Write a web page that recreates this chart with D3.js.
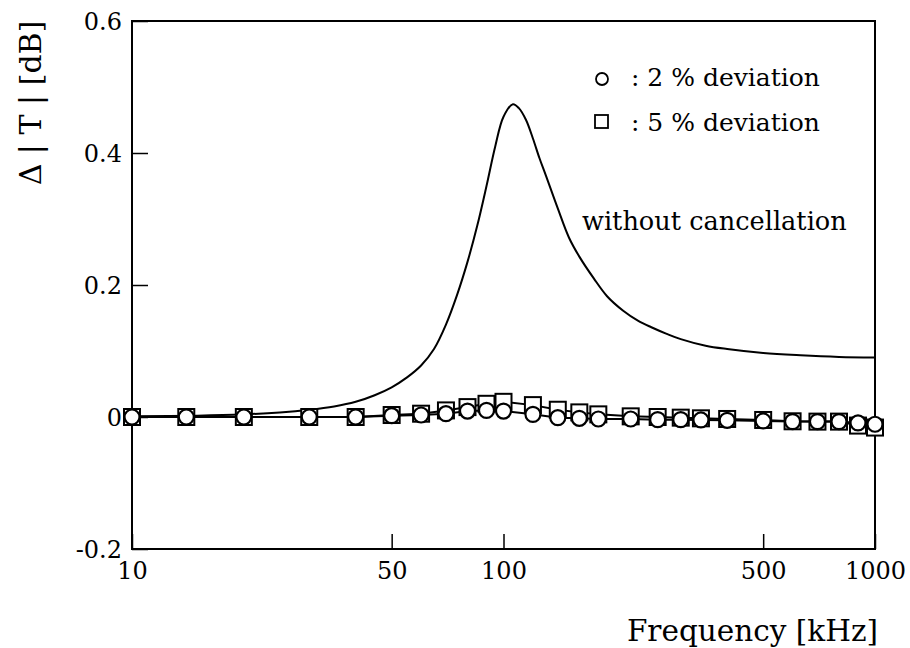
<!DOCTYPE html>
<html>
<head>
<meta charset="utf-8">
<script src="https://d3js.org/d3.v7.min.js"></script>
<style>
body { margin:0; background:#fff; }
text { font-family: "DejaVu Serif", serif; fill:#000; }
</style>
</head>
<body>
<svg id="drawing_region"></svg>
<script>
// measured points (kHz)
const markFreq = [10,14,20,30,40,50,60,70,80,90,100,120,140,160,180,220,260,300,340,400,500,600,700,800,900,1000];
const dev2 = [0,0,0,0,0,0.002,0.003,0.005,0.009,0.010,0.009,0.004,-0.001,-0.002,-0.003,-0.003,-0.004,-0.004,-0.0045,-0.005,-0.006,-0.007,-0.007,-0.007,-0.009,-0.011];
const dev5 = [0,0,0,0,0,0.003,0.005,0.010,0.015,0.020,0.023,0.018,0.011,0.007,0.004,0.001,0,-0.001,-0.002,-0.003,-0.0045,-0.0065,-0.007,-0.007,-0.013,-0.016];

// curve without cancellation
const curveFreq = [10,15,20,25,30,35,40,45,50,55,60,65,70,75,80,85,90,95,100,106,110,115,120,125,130,140,150,160,175,190,210,230,250,275,300,350,400,500,630,800,1000];
const curveVal = [0.001,0.002,0.004,0.007,0.011,0.016,0.023,0.033,0.045,0.060,0.078,0.103,0.140,0.185,0.235,0.290,0.350,0.410,0.455,0.474,0.468,0.450,0.422,0.392,0.366,0.316,0.272,0.243,0.210,0.183,0.161,0.146,0.136,0.126,0.118,0.108,0.103,0.097,0.0935,0.091,0.090];

const xTicks = [10,50,100,500,1000];
const yTicks = [-0.2,0,0.2,0.4,0.6];
const yTickLabels = ["-0.2","0","0.2","0.4","0.6"];

var config = {
  width: 910,
  height: 648,
  margin: {top:21, right:35, bottom:99, left:132}
};

const svg = d3.select('#drawing_region')
  .attr('width', config.width)
  .attr('height', config.height);

const inner_width = config.width - config.margin.left - config.margin.right;
const inner_height = config.height - config.margin.top - config.margin.bottom;

const chart = svg.append('g')
  .attr('transform', `translate(${config.margin.left}, ${config.margin.top})`);

const xscale = d3.scaleLog().domain([10,1000]).range([0, inner_width]);
const yscale = d3.scaleLinear().domain([-0.2,0.6]).range([inner_height, 0]);

// frame
chart.append('rect')
  .attr('x',0).attr('y',0)
  .attr('width',inner_width).attr('height',inner_height)
  .attr('fill','none').attr('stroke','#000').attr('stroke-width',2);

const xaxis = d3.axisBottom(xscale)
  .tickValues(xTicks)
  .tickSize(-15)
  .tickPadding(8)
  .tickFormat(d => String(d));
const xaxis_group = chart.append('g')
  .attr('transform', `translate(0, ${inner_height})`)
  .call(xaxis);

const yaxis = d3.axisLeft(yscale)
  .tickValues(yTicks)
  .tickSize(-16)
  .tickPadding(10)
  .tickFormat((d,i) => yTickLabels[i]);
const yaxis_group = chart.append('g')
  .call(yaxis);

[xaxis_group, yaxis_group].forEach(g => {
  g.select('.domain').remove();
  g.selectAll('.tick line').attr('stroke','#000').attr('stroke-width',1.5);
  g.selectAll('.tick text')
    .attr('font-family','DejaVu Serif')
    .attr('font-size',24)
    .attr('fill','#000');
});
xaxis_group.selectAll('.tick text').attr('dy','0.9em');
yaxis_group.selectAll('.tick text').attr('dy','0.35em');

// curve
const line = d3.line()
  .x(d => xscale(d[0]))
  .y(d => yscale(d[1]))
  .curve(d3.curveCatmullRom.alpha(0.5));

chart.append('path')
  .datum(curveFreq.map((f,i) => [f, curveVal[i]]))
  .attr('d', line)
  .attr('fill','none')
  .attr('stroke','#000')
  .attr('stroke-width',2);

const pts5 = markFreq.map((f,i) => [f, dev5[i]]);
const pts2 = markFreq.map((f,i) => [f, dev2[i]]);
const mline = d3.line().x(d => xscale(d[0])).y(d => yscale(d[1]));

chart.append('path').datum(pts5).attr('d', mline)
  .attr('fill','none').attr('stroke','#000').attr('stroke-width',2);
chart.append('path').datum(pts2).attr('d', mline)
  .attr('fill','none').attr('stroke','#000').attr('stroke-width',2);

const sq = 16;
chart.selectAll('rect.sq')
  .data(pts5)
  .enter()
  .append('rect')
  .attr('class','sq')
  .attr('x', d => xscale(d[0]) - sq/2)
  .attr('y', d => yscale(d[1]) - sq/2)
  .attr('width', sq).attr('height', sq)
  .attr('fill','#fff').attr('stroke','#000').attr('stroke-width',2);

chart.selectAll('circle.ci')
  .data(pts2)
  .enter()
  .append('circle')
  .attr('class','ci')
  .attr('cx', d => xscale(d[0]))
  .attr('cy', d => yscale(d[1]))
  .attr('r', 7.5)
  .attr('fill','#fff').attr('stroke','#000').attr('stroke-width',2.2);

// legend
svg.append('circle')
  .attr('cx',602).attr('cy',79).attr('r',6)
  .attr('fill','#fff').attr('stroke','#000').attr('stroke-width',1.8);
svg.append('text')
  .attr('x',631).attr('y',86)
  .attr('font-size',25)
  .text(': 2 % deviation');

svg.append('rect')
  .attr('x',595).attr('y',115).attr('width',13).attr('height',13)
  .attr('fill','#fff').attr('stroke','#000').attr('stroke-width',1.8);
svg.append('text')
  .attr('x',631).attr('y',131)
  .attr('font-size',25)
  .text(': 5 % deviation');

svg.append('text')
  .attr('x',582).attr('y',230)
  .attr('font-size',25.6)
  .text('without cancellation');

// axis titles
svg.append('text')
  .attr('x',878).attr('y',641)
  .attr('text-anchor','end')
  .attr('font-size',29.5)
  .text('Frequency [kHz]');

svg.append('text')
  .attr('transform','translate(30,103) rotate(-90)')
  .attr('text-anchor','middle')
  .attr('dominant-baseline','central')
  .attr('font-size',30)
  .text('Δ | T | [dB]');
</script>
</body>
</html>
